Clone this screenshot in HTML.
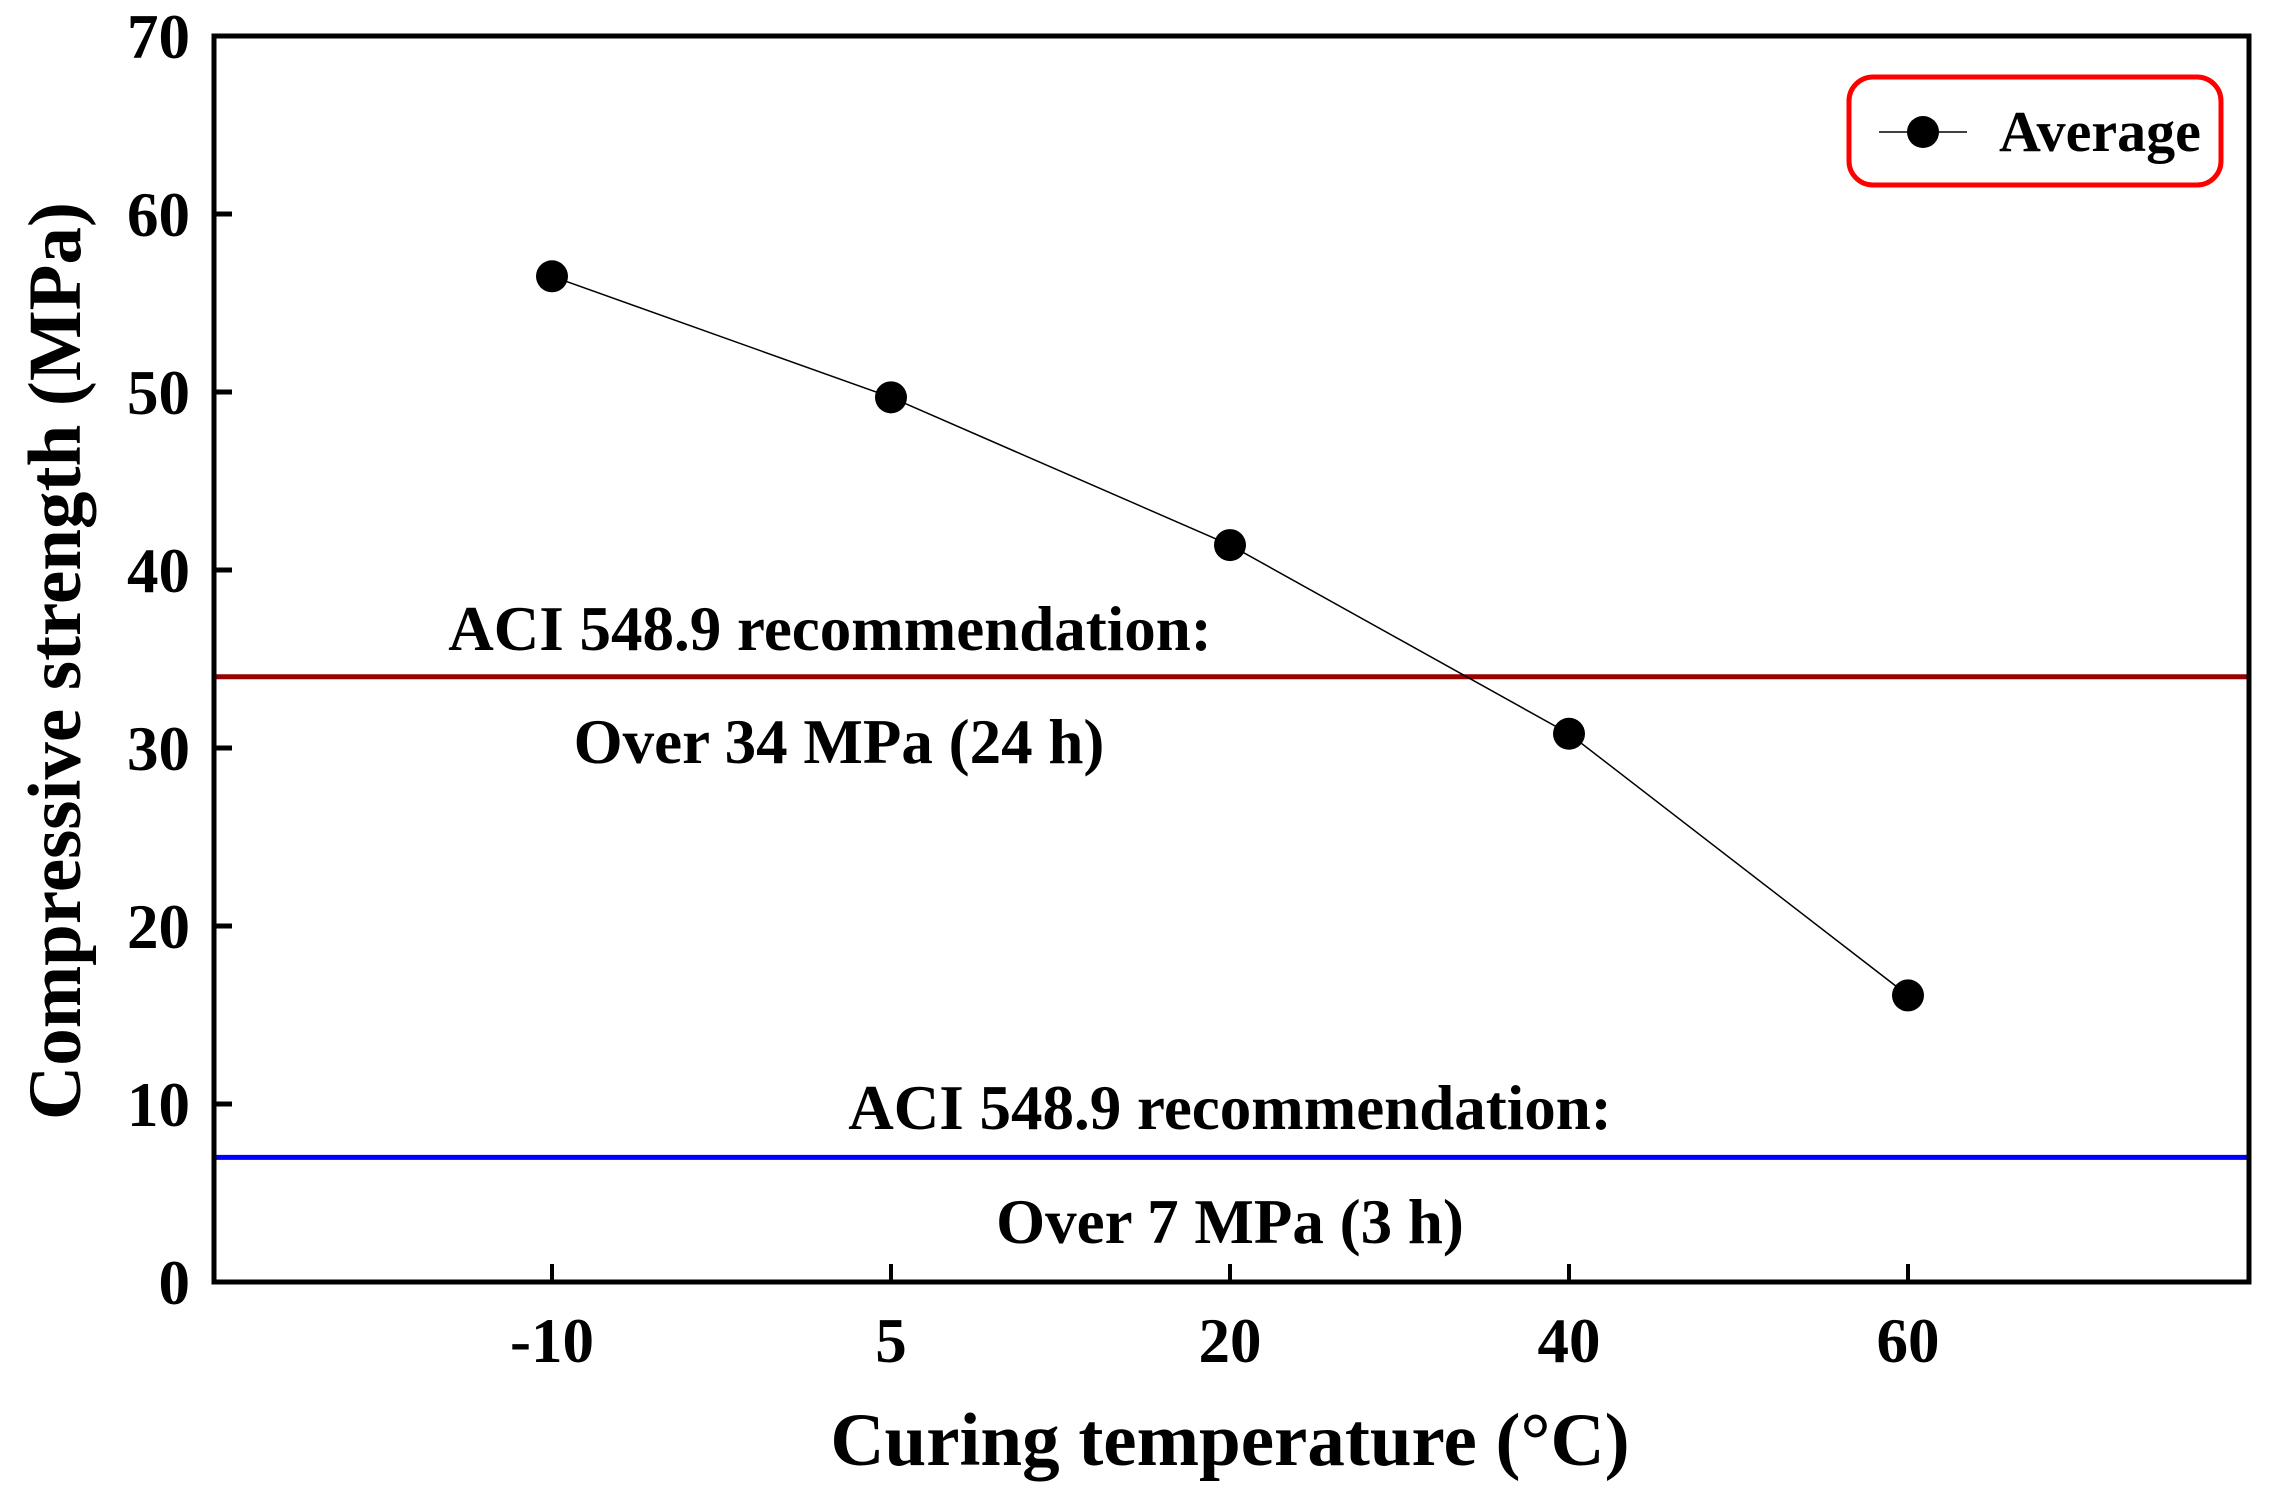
<!DOCTYPE html>
<html><head><meta charset="utf-8"><style>
html,body{margin:0;padding:0;background:#fff;}
svg text{font-family:"Liberation Serif",serif;font-weight:bold;fill:#000;}
</style></head><body>
<svg id="chart" width="2279" height="1502" xmlns="http://www.w3.org/2000/svg">
</svg>
<script>
const categories = ["-10","5","20","40","60"];
const values = [56.5, 49.7, 41.4, 30.8, 16.1];
const yTicks = [0,10,20,30,40,50,60,70];
const refLines = [34, 7];

const L=214, R=2249, T=36, B=1282;
const NS="http://www.w3.org/2000/svg";
const svg=document.getElementById('chart');
function y(v){return B-(v/70)*(B-T);}
function x(i){return 552+i*339;}
function mk(tag,attrs,parent){const e=document.createElementNS(NS,tag);for(const k in attrs)e.setAttribute(k,attrs[k]);(parent||svg).appendChild(e);return e;}

const refColors=["#990000","#0000ff"];
refLines.forEach((v,i)=>{
  const l=mk('line',{x1:L,x2:R,y1:y(v),y2:y(v),stroke:refColors[i],'stroke-width':5});
  
  
});

const frame=mk('rect',{x:L,y:T,width:R-L,height:B-T,fill:'none',stroke:'#000','stroke-width':5});



yTicks.forEach(v=>{
  if(v>0&&v<70){const t=mk('line',{x1:L,x2:L+18,y1:y(v),y2:y(v),stroke:'#000','stroke-width':5});
  
  }
  const tx=mk('text',{x:190,y:y(v)+22,'text-anchor':'end','font-size':63});
  tx.textContent=v;
  
  
});
categories.forEach((c,i)=>{
  const t=mk('line',{x1:x(i),x2:x(i),y1:B,y2:B-18,stroke:'#000','stroke-width':4});
  
  
  const tx=mk('text',{x:x(i),y:1362,'text-anchor':'middle','font-size':63});
  tx.textContent=c;
  
  
});

const pl=mk('polyline',{points:values.map((v,i)=>x(i)+','+y(v)).join(' '),fill:'none',stroke:'#000','stroke-width':1.5});


values.forEach((v,i)=>{
  const c=mk('circle',{cx:x(i),cy:y(v),r:16,fill:'#000'});
  
  
});

const ann=[["ACI 548.9 recommendation:",830,650],["Over 34 MPa (24 h)",839,763],["ACI 548.9 recommendation:",1230,1129],["Over 7 MPa (3 h)",1230,1243]];
ann.forEach(a=>{
  const t=mk('text',{x:a[1],y:a[2],'text-anchor':'middle','font-size':63});
  t.textContent=a[0];
  
  
});

const xt=mk('text',{x:1230,y:1465,'text-anchor':'middle','font-size':75});
xt.textContent="Curing temperature (°C)";


const yt=mk('text',{x:0,y:0,'text-anchor':'middle','font-size':75,transform:'translate(80,661) rotate(-90)'});
yt.textContent="Compressive strength (MPa)";



const lg=mk('g',{});


mk('rect',{x:1849,y:77,width:372,height:108,rx:24,fill:'#fff',stroke:'#ff0000','stroke-width':5},lg);
mk('line',{x1:1879,x2:1967,y1:132,y2:132,stroke:'#000','stroke-width':1.5},lg);
mk('circle',{cx:1923,cy:132,r:16,fill:'#000'},lg);
const lt=mk('text',{x:1999,y:151,'font-size':58},lg);
lt.textContent="Average";


</script>
</body></html>
